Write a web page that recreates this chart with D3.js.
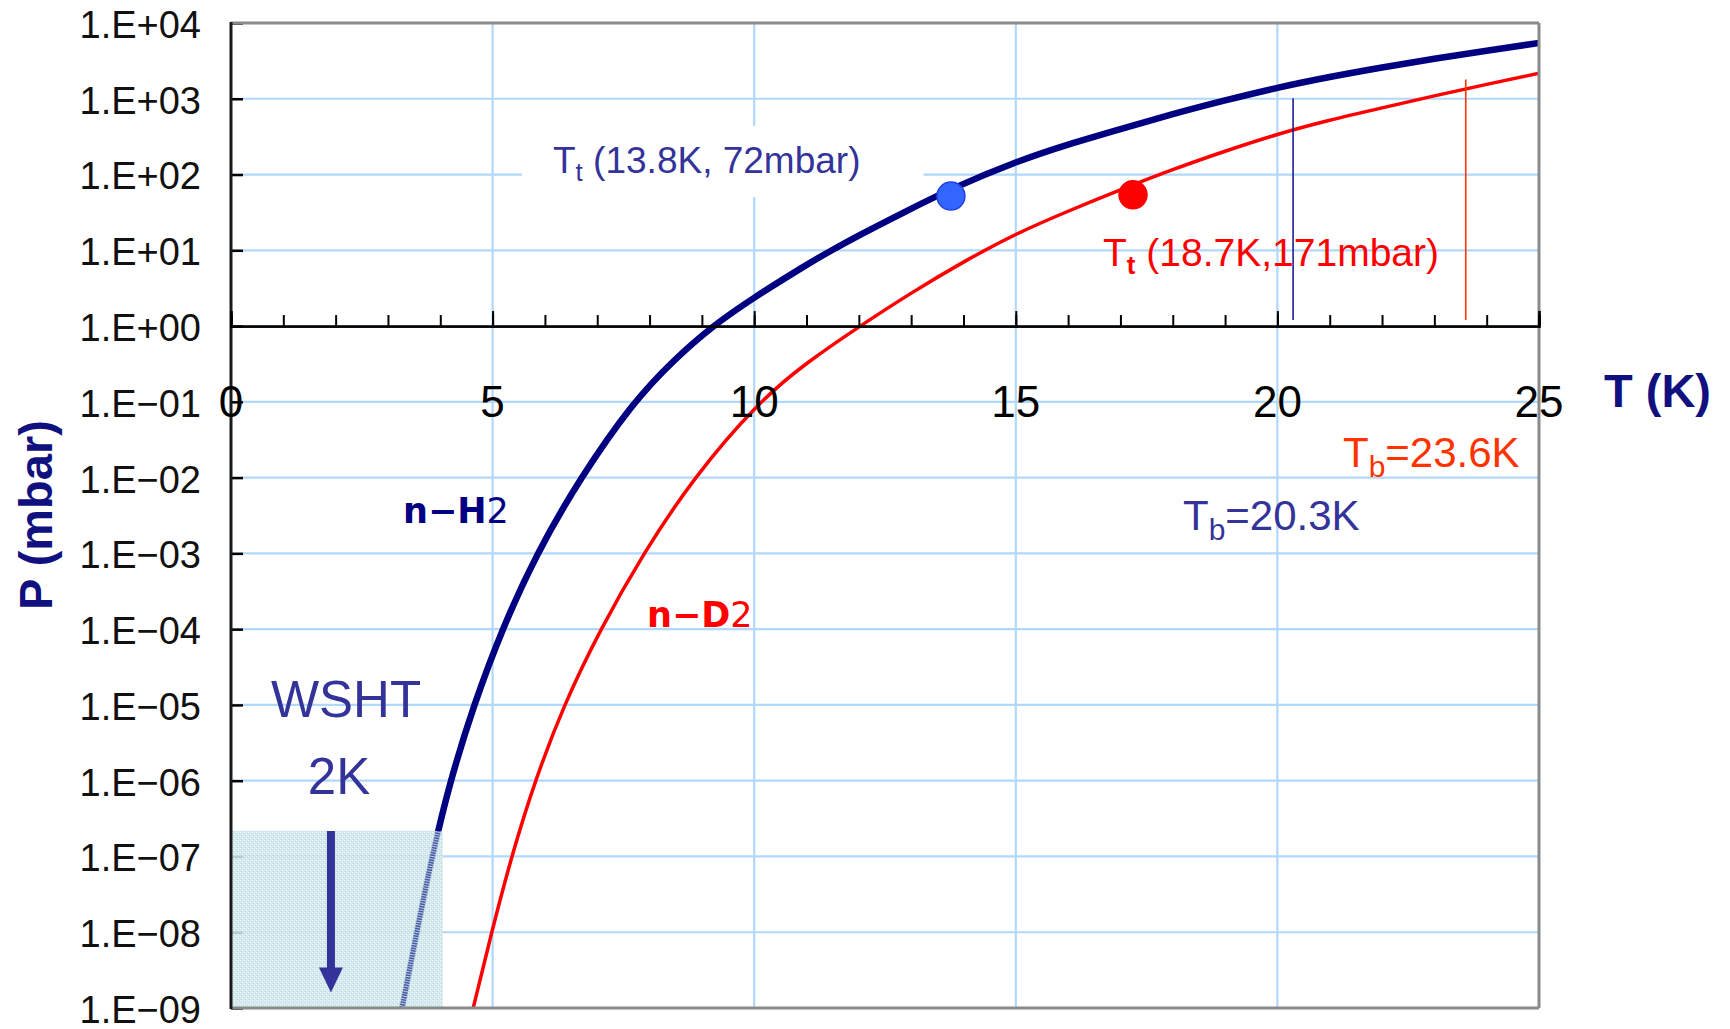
<!DOCTYPE html>
<html>
<head>
<meta charset="utf-8">
<script src="https://cdn.jsdelivr.net/npm/d3@7/dist/d3.min.js"></script>
<style>
  html, body { margin: 0; padding: 0; background: #fff; }
  svg { display: block; }
  text { font-family: "Liberation Sans", Arial, sans-serif; }
</style>
</head>
<body>
<svg id="chart"></svg>
<script>
// vapour pressure curves, T in K and P in mbar
const h2Temp = [3.27, 3.55, 3.84, 4.19, 4.64, 5.18, 5.84, 6.68, 7.69, 8.45, 9.2, 10, 11, 11.4, 12, 12.8, 13.76, 15, 16, 17, 18, 19, 20, 21, 22, 23, 24, 25];
const h2Pres = [1e-9, 1e-8, 1e-7, 1e-6, 1e-5, 1e-4, 1e-3, 1e-2, 0.1, 0.35, 1, 2.4, 6.46, 9.33, 15.8, 30.2, 65, 148, 251, 398, 631, 955, 1409, 1950, 2600, 3390, 4315, 5460];

const d2Temp = [4.63, 4.98, 5.36, 5.81, 6.36, 7.06, 7.88, 8.84, 10.08, 11, 12.02, 13, 14, 15, 16, 17, 18, 19, 20, 21, 22, 23, 24, 25];
const d2Pres = [1e-9, 1e-8, 1e-7, 1e-6, 1e-5, 1e-4, 1e-3, 1e-2, 0.1, 0.33, 1, 2.75, 7.1, 16.6, 33, 63, 117, 204, 343, 525, 759, 1096, 1549, 2173];

// triple points (as drawn) and boiling points
const tripleTemp = [13.76, 17.24];
const triplePres = [52, 54];
const boilTemp = [20.3, 23.6];
const boilTop = [1013, 1800];
const boilBottom = [1.2, 1.2];

// WSHT 2K region and arrow
const wshtTemp = [0, 4.05];
const wshtPres = [1e-9, 2.17e-7];
const arrowTemp = 1.91;
const arrowPres = [2.17e-7, 1.6e-9];

const xTickValues = [0, 5, 10, 15, 20, 25];
const xMinorValues = [0, 1, 2, 3, 4, 5, 6, 7, 8, 9, 10, 11, 12, 13, 14, 15, 16, 17, 18, 19, 20, 21, 22, 23, 24, 25];
const yTickValues = [1e4, 1e3, 1e2, 1e1, 1e0, 1e-1, 1e-2, 1e-3, 1e-4, 1e-5, 1e-6, 1e-7, 1e-8, 1e-9];
const yTickLabels = ['1.E+04', '1.E+03', '1.E+02', '1.E+01', '1.E+00', '1.E\u221201', '1.E\u221202', '1.E\u221203',
  '1.E\u221204', '1.E\u221205', '1.E\u221206', '1.E\u221207', '1.E\u221208', '1.E\u221209'];

const width = 1730;
const height = 1029;
const margin = { top: 23, right: 191, bottom: 21, left: 231 };

const navy = '#000080';
const indigo = '#333399';
const gridColor = '#b0d8fa';

const svg = d3.select('#chart')
  .attr('width', width)
  .attr('height', height);

svg.append('rect').attr('width', width).attr('height', height).attr('fill', '#fff');

const x = d3.scaleLinear().domain([0, 25]).range([margin.left, width - margin.right]);
const y = d3.scaleLog().domain([1e-9, 1e4]).range([height - margin.bottom, margin.top]);

const defs = svg.append('defs');
defs.append('clipPath').attr('id', 'plot-clip')
  .append('rect')
  .attr('x', x(0)).attr('y', y(1e4))
  .attr('width', x(25) - x(0)).attr('height', y(1e-9) - y(1e4));

defs.append('clipPath').attr('id', 'wsht-clip')
  .append('rect')
  .attr('x', x(wshtTemp[0])).attr('y', y(wshtPres[1]))
  .attr('width', x(wshtTemp[1]) - x(wshtTemp[0])).attr('height', y(wshtPres[0]) - y(wshtPres[1]));

// speckled fill for the shaded region
const pat = defs.append('pattern')
  .attr('id', 'speckle')
  .attr('width', 4).attr('height', 4)
  .attr('patternUnits', 'userSpaceOnUse');
pat.append('rect').attr('width', 4).attr('height', 4).attr('fill', '#cde6ea');
[[0, 0, '#eef8f8'], [2, 2, '#f2fafa'], [1, 3, '#b3d5dc'], [3, 1, '#bcdce2'], [2, 0, '#e2f1f3']].forEach(p => {
  pat.append('rect').attr('x', p[0]).attr('y', p[1]).attr('width', 1).attr('height', 1).attr('fill', p[2]);
});

// grid
const grid = svg.append('g');
grid.selectAll('line.h')
  .data(yTickValues.slice(1, -1))
  .join('line')
  .attr('x1', x(0)).attr('x2', x(25))
  .attr('y1', d => y(d)).attr('y2', d => y(d))
  .attr('stroke', gridColor).attr('stroke-width', 2.2);
grid.selectAll('line.v')
  .data(xTickValues.slice(1, -1))
  .join('line')
  .attr('x1', d => x(d)).attr('x2', d => x(d))
  .attr('y1', y(1e4)).attr('y2', y(1e-9))
  .attr('stroke', gridColor).attr('stroke-width', 2.2);

// y axis ticks and labels
const yAxis = d3.axisLeft(y)
  .tickValues(yTickValues)
  .tickSize(-12)
  .tickPadding(30)
  .tickFormat((d, i) => yTickLabels[i]);
const yG = svg.append('g')
  .attr('transform', `translate(${x(0)},0)`)
  .call(yAxis);
yG.select('.domain').remove();
yG.selectAll('.tick line').attr('stroke', '#000').attr('stroke-width', 2.5);
yG.selectAll('.tick text')
  .attr('dy', '0.38em')
  .attr('fill', '#111')
  .style('font-size', '38px')
  .style('font-family', '"Liberation Sans", Arial, sans-serif');

// white box behind the H2 triple point label
const ttBox = svg.append('rect').attr('fill', '#fff');

const ttH2 = svg.append('text')
  .attr('x', 553).attr('y', 173)
  .attr('fill', indigo)
  .style('font-size', '37px');
ttH2.append('tspan').text('T');
ttH2.append('tspan').attr('dy', 8).style('font-size', '26px').text('t');
ttH2.append('tspan').attr('dy', -8).text('\u00a0(13.8K, 72mbar)');
const bb = ttH2.node().getBBox();
ttBox.attr('x', bb.x - 31).attr('y', bb.y - 14)
  .attr('width', bb.width + 94).attr('height', bb.height + 24);

// curves
const line = d3.line()
  .x(d => x(d[0]))
  .y(d => y(d[1]))
  .curve(d3.curveBasis);

const h2Data = h2Temp.map((t, i) => [t, h2Pres[i]]);
const d2Data = d2Temp.map((t, i) => [t, d2Pres[i]]);

const curves = svg.append('g').attr('clip-path', 'url(#plot-clip)');
curves.append('path')
  .attr('d', line(d2Data))
  .attr('fill', 'none')
  .attr('stroke', '#ff0000')
  .attr('stroke-width', 3.5);
curves.append('path')
  .attr('d', line(h2Data))
  .attr('fill', 'none')
  .attr('stroke', navy)
  .attr('stroke-width', 6.5);

// boiling point markers
svg.selectAll('line.tb')
  .data(boilTemp)
  .join('line')
  .attr('x1', d => x(d)).attr('x2', d => x(d))
  .attr('y1', (d, i) => y(boilTop[i])).attr('y2', (d, i) => y(boilBottom[i]))
  .attr('stroke', (d, i) => i === 0 ? '#1f1f8f' : '#ff3300')
  .attr('stroke-width', 1.6);

// WSHT shaded region
svg.append('rect')
  .attr('x', x(wshtTemp[0])).attr('y', y(wshtPres[1]))
  .attr('width', x(wshtTemp[1]) - x(wshtTemp[0]))
  .attr('height', y(wshtPres[0]) - y(wshtPres[1]))
  .attr('fill', 'url(#speckle)')
  .attr('opacity', 0.88);
svg.append('path')
  .attr('clip-path', 'url(#wsht-clip)')
  .attr('d', line(h2Data))
  .attr('fill', 'none')
  .attr('stroke', '#34449a')
  .attr('stroke-width', 5)
  .attr('stroke-dasharray', '1.5 1')
  .attr('opacity', 0.85);

// frame
const frame = svg.append('g').attr('fill', 'none');
frame.append('line').attr('x1', x(0)).attr('x2', x(25)).attr('y1', y(1e4)).attr('y2', y(1e4))
  .attr('stroke', '#8a8a8a').attr('stroke-width', 3);
frame.append('line').attr('x1', x(25)).attr('x2', x(25)).attr('y1', y(1e4)).attr('y2', y(1e-9))
  .attr('stroke', '#8a8a8a').attr('stroke-width', 3);
frame.append('line').attr('x1', x(0)).attr('x2', x(25)).attr('y1', y(1e-9)).attr('y2', y(1e-9))
  .attr('stroke', '#8a8a8a').attr('stroke-width', 3);
frame.append('line').attr('x1', x(0)).attr('x2', x(0)).attr('y1', y(1e4) - 1).attr('y2', y(1e-9) + 1)
  .attr('stroke', '#1a1a1a').attr('stroke-width', 3);

// T axis at 1 mbar
const xMinor = d3.axisTop(x).tickValues(xMinorValues).tickSize(11).tickFormat('');
const xMajor = d3.axisTop(x).tickValues(xTickValues).tickSize(15).tickFormat('');
const xG = svg.append('g').attr('transform', `translate(0,${y(1)})`);
xG.call(xMinor);
xG.append('g').call(xMajor);
xG.selectAll('.domain').attr('stroke', '#000').attr('stroke-width', 2.2);
xG.selectAll('.tick line').attr('stroke', '#000').attr('stroke-width', 2);

svg.selectAll('text.xlab')
  .data(xTickValues)
  .join('text')
  .attr('class', 'xlab')
  .attr('x', d => x(d))
  .attr('y', 417)
  .attr('text-anchor', 'middle')
  .attr('fill', '#000')
  .style('font-size', '44px')
  .text(d => d);

// triple point dots
svg.selectAll('circle.tt')
  .data(tripleTemp)
  .join('circle')
  .attr('cx', d => x(d))
  .attr('cy', (d, i) => y(triplePres[i]))
  .attr('r', 14)
  .attr('fill', (d, i) => i === 0 ? '#3366ff' : '#ff0000')
  .attr('stroke', (d, i) => i === 0 ? '#2040e0' : '#ff0000')
  .attr('stroke-width', 1.5);

// arrow
const ax = x(arrowTemp);
svg.append('line')
  .attr('x1', ax).attr('x2', ax)
  .attr('y1', y(arrowPres[0])).attr('y2', y(arrowPres[1]) - 20)
  .attr('stroke', indigo).attr('stroke-width', 8);
svg.append('path')
  .attr('d', `M${ax - 12},${y(arrowPres[1]) - 25} L${ax + 12},${y(arrowPres[1]) - 25} L${ax},${y(arrowPres[1])} Z`)
  .attr('fill', indigo);

// labels
svg.append('text')
  .attr('transform', 'translate(52,515) rotate(-90)')
  .attr('text-anchor', 'middle')
  .attr('fill', '#10107f')
  .style('font-size', '47px')
  .style('font-weight', 'bold')
  .text('P (mbar)');

svg.append('text')
  .attr('x', 1604).attr('y', 407)
  .attr('fill', '#10107f')
  .style('font-size', '47px')
  .style('font-weight', 'bold')
  .text('T (K)');

function gasLabel(xp, yp, color, name) {
  const t = svg.append('text')
    .attr('x', xp).attr('y', yp)
    .attr('fill', color)
    .style('font-family', '"DejaVu Sans", sans-serif')
    .style('font-size', '35px');
  t.append('tspan').style('font-weight', 'bold').text(name);
  t.append('tspan').text('2');
}
gasLabel(403, 523, navy, 'n\u2212H');
gasLabel(647, 627, '#ff0000', 'n\u2212D');

const ttD2 = svg.append('text')
  .attr('x', 1103).attr('y', 266)
  .attr('fill', '#ff0000')
  .style('font-size', '39px');
ttD2.append('tspan').text('T');
ttD2.append('tspan').attr('dy', 8).style('font-size', '26px').style('font-weight', 'bold').text('t');
ttD2.append('tspan').attr('dy', -8).text('\u00a0(18.7K,171mbar)');

function tbLabel(xp, yp, color, value) {
  const t = svg.append('text')
    .attr('x', xp).attr('y', yp)
    .attr('fill', color)
    .style('font-size', '42px');
  t.append('tspan').text('T');
  t.append('tspan').attr('dy', 10).style('font-size', '30px').text('b');
  t.append('tspan').attr('dy', -10).text('=' + value);
}
tbLabel(1343, 467, '#ff3300', '23.6K');
tbLabel(1183, 530, indigo, '20.3K');

svg.append('text')
  .attr('x', 346).attr('y', 717)
  .attr('text-anchor', 'middle')
  .attr('fill', indigo)
  .style('font-size', '51px')
  .text('WSHT');
svg.append('text')
  .attr('x', 339).attr('y', 794)
  .attr('text-anchor', 'middle')
  .attr('fill', indigo)
  .style('font-size', '51px')
  .text('2K');
</script>
</body>
</html>
